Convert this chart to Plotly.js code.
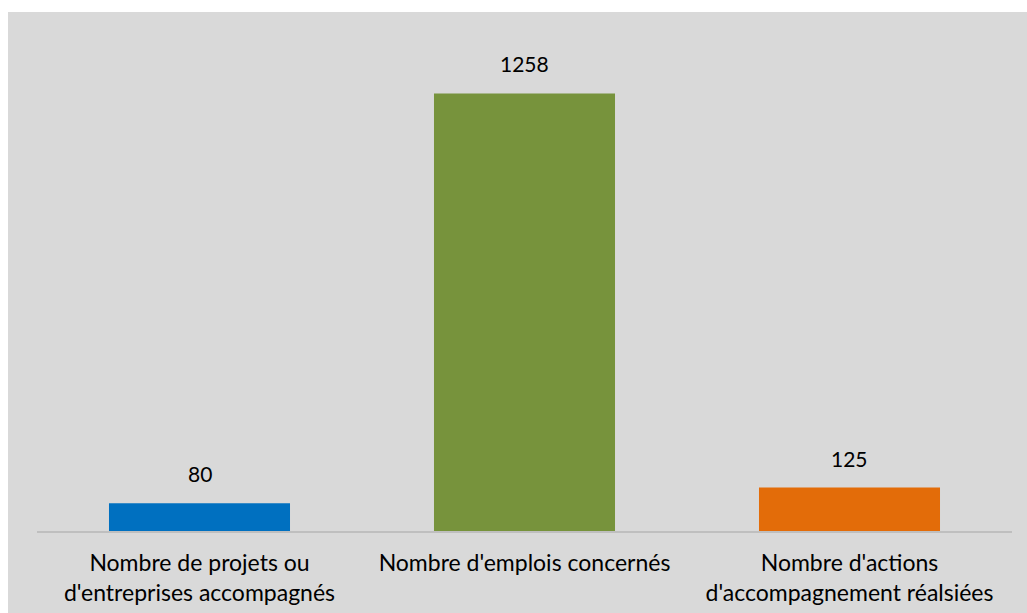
<!DOCTYPE html>
<html><head><meta charset="utf-8">
<script src="https://cdn.plot.ly/plotly-3.0.1.min.js"></script>
<style>html,body{margin:0;padding:0;background:#fff}</style>
</head><body>
<div id="chart" style="width:1027px;height:613px"></div>
<script>
const categories = ["Nombre de projets ou<br>d'entreprises accompagnés", "Nombre d'emplois concernés", "Nombre d'actions<br>d'accompagnement réalsiées"];
const values = [80, 1258, 125];
const colors = ["#0070c0", "#77933c", "#e36c09"];

const W = 1027, H = 613, L = 37, R = 15, T = 44, B = 82;
const pw = W - L - R, ph = H - T - B;
const FONT = "Lato, 'Open Sans', sans-serif";

const trace = {
  type: 'bar', x: categories, y: values,
  marker: {color: colors}, width: 0.557,
  hoverinfo: 'none'
};
const annotations = values.map((v, i) => ({
  x: categories[i], y: v, xref: 'x', yref: 'y',
  text: String(v), showarrow: false, yanchor: 'bottom', yshift: 15,
  font: {family: FONT, size: 21, color: '#000'}
}));
const layout = {
  width: W, height: H,
  margin: {l: L, r: R, t: T, b: B, pad: 0},
  paper_bgcolor: '#ffffff', plot_bgcolor: 'rgba(0,0,0,0)',
  showlegend: false,
  bargap: 0.443,
  xaxis: {showline: true, linecolor: '#bfbfbf', linewidth: 2, ticks: '', showgrid: false,
          ticklabelstandoff: 10,
          tickfont: {family: FONT, size: 23, color: '#000'}, automargin: false, fixedrange: true},
  yaxis: {range: [0, 1400], visible: false, showgrid: false, zeroline: false, fixedrange: true},
  shapes: [{type: 'rect', xref: 'paper', yref: 'paper', layer: 'below',
            x0: (8 - L) / pw, x1: (W - L + 5) / pw, y0: -(B + 5) / ph, y1: (H - B - 12) / ph,
            fillcolor: '#d9d9d9', line: {width: 0}}],
  annotations: annotations
};
Plotly.newPlot('chart', [trace], layout, {displayModeBar: false, staticPlot: true});
</script>
</body></html>
